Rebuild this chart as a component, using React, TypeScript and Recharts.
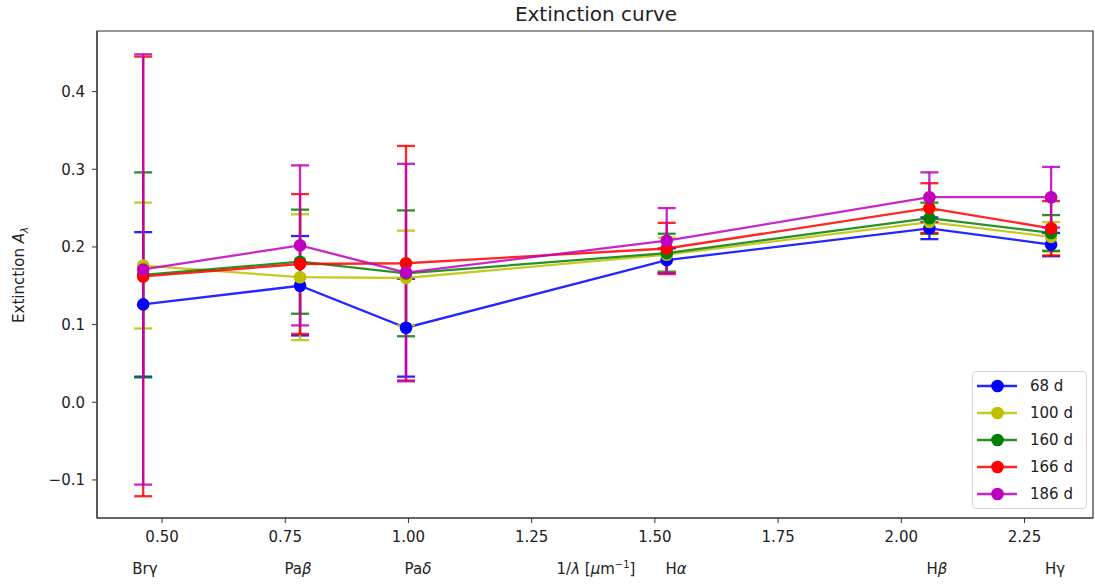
import { ComposedChart, Line, XAxis, YAxis, ErrorBar, Legend, Customized, ReferenceArea } from "recharts";

// lines and their inverse wavelength (1/um)
const lineNames = ["Brγ", "Paβ", "Paδ", "Hα", "Hβ", "Hγ"];
const invLambda = [0.4617, 0.78, 0.995, 1.524, 2.057, 2.304];

// extinction per epoch, with symmetric errors
const a68 = [0.126, 0.15, 0.096, 0.183, 0.224, 0.203];
const e68 = [0.093, 0.064, 0.063, 0.015, 0.014, 0.015];
const a100 = [0.176, 0.161, 0.16, 0.19, 0.232, 0.213];
const e100 = [0.081, 0.081, 0.061, 0.022, 0.015, 0.019];
const a160 = [0.164, 0.181, 0.166, 0.192, 0.237, 0.218];
const e160 = [0.132, 0.067, 0.081, 0.025, 0.02, 0.023];
const a166 = [0.162, 0.178, 0.179, 0.198, 0.25, 0.224];
const e166 = [0.283, 0.09, 0.151, 0.033, 0.032, 0.035];
const a186 = [0.171, 0.202, 0.167, 0.208, 0.264, 0.264];
const e186 = [0.277, 0.103, 0.14, 0.042, 0.032, 0.039];

const epochs = ["68 d", "100 d", "160 d", "166 d", "186 d"];
const colors = ["#0000ff", "#bfbf00", "#008000", "#ff0000", "#bf00bf"];
const values = [a68, a100, a160, a166, a186];
const errors = [e68, e100, e160, e166, e186];

const xTicks = [0.5, 0.75, 1.0, 1.25, 1.5, 1.75, 2.0, 2.25];
const yTicks = [-0.1, 0.0, 0.1, 0.2, 0.3, 0.4];
const xDomain: [number, number] = [0.368, 2.389];
const yDomain: [number, number] = [-0.149, 0.478];

const data = invLambda.map((x, i) => {
  const row: Record<string, number | string> = { x, line: lineNames[i] };
  values.forEach((v, s) => {
    row[`v${s}`] = v[i];
    row[`e${s}`] = errors[s][i];
  });
  return row;
});

const FONT = "'DejaVu Sans', sans-serif";
const INK = "#222";

const fmtY = (v: number) => (v < 0 ? "\u2212" + Math.abs(v).toFixed(1) : v.toFixed(1));

// second row under the x ticks: line names plus the axis label
const XNames = () => {
  const y = 574;
  const st = { fontSize: 15, fill: INK, fontFamily: FONT } as const;
  return (
    <g>
      <text x={145} y={y} textAnchor="middle" {...st}>Brγ</text>
      <text x={298} y={y} textAnchor="middle" {...st}>Pa<tspan fontStyle="italic">β</tspan></text>
      <text x={418} y={y} textAnchor="middle" {...st}>Pa<tspan fontStyle="italic">δ</tspan></text>
      <text x={596} y={y} textAnchor="middle" {...st}>
        1/<tspan fontStyle="italic">λ</tspan> [<tspan fontStyle="italic">μ</tspan>m<tspan dy={-6} fontSize={10}>−1</tspan><tspan dy={6}>]</tspan>
      </text>
      <text x={676} y={y} textAnchor="middle" {...st}>H<tspan fontStyle="italic">α</tspan></text>
      <text x={937} y={y} textAnchor="middle" {...st}>H<tspan fontStyle="italic">β</tspan></text>
      <text x={1055} y={y} textAnchor="middle" {...st}>Hγ</text>
    </g>
  );
};

const Titles = () => (
  <g>
    <text x={596} y={21} textAnchor="middle" fontSize={20} fill={INK} fontFamily={FONT}>
      Extinction curve
    </text>
    <text
      x={0}
      y={0}
      transform="translate(24 275) rotate(-90)"
      textAnchor="middle"
      fontSize={15}
      fill={INK}
      fontFamily={FONT}
    >
      Extinction <tspan fontStyle="italic">A</tspan>
      <tspan fontStyle="italic" fontSize={10} dy={4}>λ</tspan>
    </text>
    <XNames />
  </g>
);

const LegendBox = () => (
  <div
    style={{
      width: 115,
      height: 138,
      boxSizing: "border-box",
      border: "1px solid #d6d6d6",
      borderRadius: 4,
      background: "rgba(255,255,255,0.85)",
      paddingTop: 1,
      fontFamily: FONT,
      fontSize: 15,
      color: INK,
    }}
  >
    {epochs.map((name, s) => (
      <div key={name} style={{ display: "flex", alignItems: "center", height: 26.8 }}>
        <svg width={57} height={16} style={{ flex: "none" }}>
          <line x1={4} x2={44} y1={8} y2={8} stroke={colors[s]} strokeWidth={2.3} strokeOpacity={0.85} />
          <circle cx={24.5} cy={8} r={6.3} fill={colors[s]} />
        </svg>
        <span>{name}</span>
      </div>
    ))}
  </div>
);

export default function App() {
  return (
    <div style={{ position: "absolute", left: 0, top: 0, background: "#fff" }}>
      <ComposedChart
        width={1095}
        height={585}
        data={data}
        margin={{ top: 31, right: 2, bottom: 0, left: 0 }}
      >
        <XAxis
          type="number"
          dataKey="x"
          domain={xDomain}
          allowDataOverflow
          ticks={xTicks}
          tickFormatter={(v: number) => v.toFixed(2)}
          height={67}
          tickSize={5}
          tickMargin={8}
          stroke="#333"
          tick={{ fill: INK, fontSize: 15, fontFamily: FONT }}
        />
        <YAxis
          type="number"
          domain={yDomain}
          allowDataOverflow
          ticks={yTicks}
          tickFormatter={fmtY}
          width={97}
          tickSize={5}
          tickMargin={7}
          stroke="#333"
          tick={{ fill: INK, fontSize: 15, fontFamily: FONT }}
        />
        {/* plot frame (matplotlib spines) */}
        <ReferenceArea
          x1={xDomain[0]}
          x2={xDomain[1]}
          y1={yDomain[0]}
          y2={yDomain[1]}
          fill="none"
          stroke="#333"
          strokeWidth={1.2}
        />
        {epochs.map((name, s) => (
          <Line
            key={name}
            name={name}
            type="linear"
            dataKey={`v${s}`}
            stroke={colors[s]}
            strokeOpacity={0.85}
            strokeWidth={2.3}
            dot={{ r: 6.3, fill: colors[s], stroke: "none", fillOpacity: 1 }}
            activeDot={false}
            isAnimationActive={false}
          >
            <ErrorBar
              dataKey={`e${s}`}
              direction="y"
              width={9}
              stroke={colors[s]}
              strokeOpacity={0.85}
              strokeWidth={2.3}
              isAnimationActive={false}
            />
          </Line>
        ))}
        <Legend
          layout="vertical"
          align="center"
          verticalAlign="middle"
          content={() => <LegendBox />}
          wrapperStyle={{ left: 972, top: 371, width: 115, height: 138 }}
        />
        <Customized component={Titles} />
      </ComposedChart>
    </div>
  );
}
